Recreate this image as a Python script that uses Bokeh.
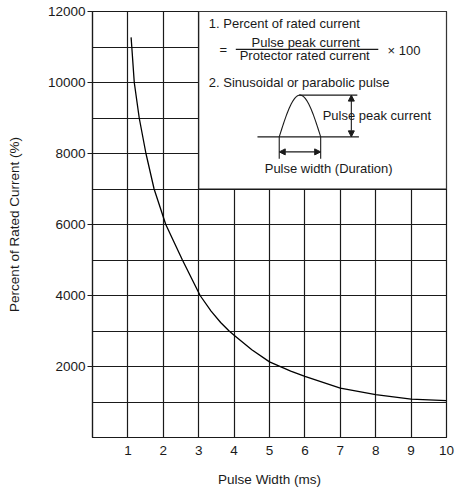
from bokeh.plotting import figure
from bokeh.models import Label, Arrow, NormalHead, FixedTicker
from bokeh.embed import file_html
from bokeh.resources import INLINE
import numpy as np

# ---- data ----
pulse_width_ms = [1.09, 1.11, 1.18, 1.32, 1.51, 1.74, 2.07, 2.54, 3.04, 3.35, 3.62,
                  3.86, 4.0, 4.5, 5.0, 5.6, 6.0, 7.0, 8.0, 9.0, 10.0]
percent_rated = [11270, 11000, 10000, 9000, 8000, 7000, 6000, 5000, 4000, 3560, 3240,
                 3000, 2880, 2470, 2130, 1870, 1720, 1390, 1210, 1080, 1040]
x_ticks = [1, 2, 3, 4, 5, 6, 7, 8, 9, 10]
y_ticks = [2000, 4000, 6000, 8000, 10000, 12000]
x_grid = [1, 2, 3, 4, 5, 6, 7, 8, 9]
y_grid = [1000, 2000, 3000, 4000, 5000, 6000, 7000, 8000, 9000, 10000, 11000]

FONT = "Liberation Sans"
INK = "#1a1a1a"

p = figure(width=457, height=490, x_range=(0, 10), y_range=(0, 12000),
           output_backend="svg", toolbar_location=None,
           min_border_left=92, min_border_right=11, min_border_top=11,
           min_border_bottom=53)

p.outline_line_color = INK
p.outline_line_width = 1.2
p.background_fill_color = "white"
p.border_fill_color = "white"

# grids
p.xgrid.ticker = FixedTicker(ticks=x_grid)
p.ygrid.ticker = FixedTicker(ticks=y_grid)
for g in (p.xgrid, p.ygrid):
    g.grid_line_color = INK
    g.grid_line_width = 1.2
    g.grid_line_alpha = 1.0

# axes
p.xaxis.ticker = FixedTicker(ticks=x_ticks)
p.yaxis.ticker = FixedTicker(ticks=y_ticks)
p.xaxis.axis_label = "Pulse Width (ms)"
p.yaxis.axis_label = "Percent of Rated Current (%)"
for ax in (p.xaxis, p.yaxis):
    ax.axis_label_text_font = FONT
    ax.axis_label_text_font_style = "normal"
    ax.axis_label_text_font_size = "13.5px"
    ax.axis_label_text_color = INK
    ax.major_label_text_font = FONT
    ax.major_label_text_font_size = "13.5px"
    ax.major_label_text_color = INK
    ax.minor_tick_line_color = None
    ax.axis_line_color = INK
    ax.axis_line_width = 1.2
    ax.major_tick_line_color = INK
    ax.major_tick_line_width = 1.2
    ax.major_tick_in = 0
p.xaxis.major_tick_out = 0
p.xaxis.major_label_standoff = 8
p.xaxis.axis_label_standoff = 14
p.yaxis.major_tick_out = 5
p.yaxis.major_label_standoff = 2
p.yaxis.axis_label_standoff = 23
p.yaxis.major_label_orientation = "horizontal"

# curve
p.line(pulse_width_ms, percent_rated, line_color="black", line_width=1.3)

# ---- annotation box (layout helpers: reference pixel -> data) ----
def dx(px):
    return (px - 91.5) / 35.45

def dy(py):
    return (437.0 - py) / 0.03546

p.quad(left=3, right=10, bottom=7000, top=12000, fill_color="white",
       line_color=INK, line_width=1.2)

def label(px, py, text, align="left"):
    p.add_layout(Label(x=dx(px), y=dy(py), text=text, text_font=FONT,
                       text_font_size="13px", text_color=INK,
                       text_align=align, text_baseline="middle"))

label(208, 23.5, "1. Percent of rated current")
label(222.5, 49.5, "=", "center")
label(305, 42, "Pulse peak current", "center")
label(304, 55.5, "Protector rated current", "center")
label(387, 50.5, "× 100")
label(208, 82, "2. Sinusoidal or parabolic pulse")
label(322, 115.5, "Pulse peak current")
label(328, 168.5, "Pulse width (Duration)", "center")

def seg(x0, y0, x1, y1):
    p.segment(x0=dx(x0), y0=dy(y0), x1=dx(x1), y1=dy(y1),
              line_color=INK, line_width=1.1)

seg(235, 49.3, 377.7, 49.3)        # fraction bar
seg(256.7, 136.7, 358.3, 136.7)    # pulse baseline
seg(298.5, 95, 356.7, 95)          # peak level
seg(278.5, 136.7, 278.5, 158.5)    # left foot
seg(320, 136.7, 320, 158.5)        # right foot

# pulse shape
t = np.linspace(0, 1, 60)
px = 278.5 + t * (320 - 278.5)
py = 136.7 - (136.7 - 95) * np.sin(np.pi * t)
p.line([dx(v) for v in px], [dy(v) for v in py], line_color=INK, line_width=1.1)

def arrow(x0, y0, x1, y1):
    p.add_layout(Arrow(x_start=dx(x0), y_start=dy(y0), x_end=dx(x1), y_end=dy(y1),
                       line_color=INK, line_width=1.1,
                       start=NormalHead(size=6, fill_color=INK, line_color=INK),
                       end=NormalHead(size=6, fill_color=INK, line_color=INK)))

arrow(350.7, 95, 350.7, 136.7)
arrow(278.5, 151.7, 320, 151.7)

open("out.html", "w").write(file_html(p, INLINE))
